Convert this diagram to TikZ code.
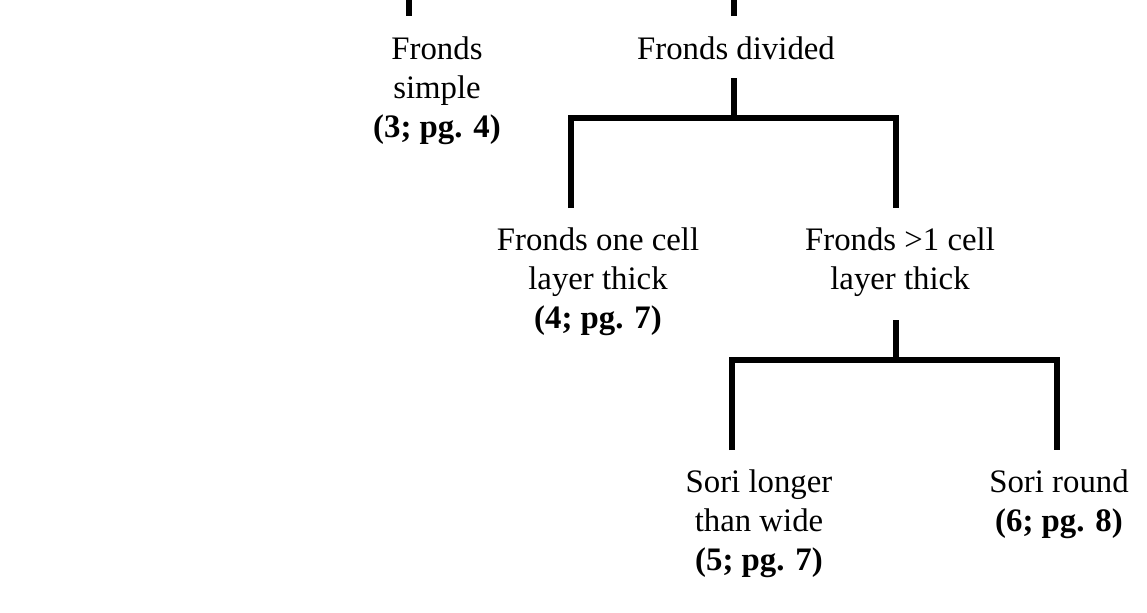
\documentclass[tikz,border=0pt]{standalone}
\usepackage{fontspec}
\setmainfont{Liberation Serif}

\begin{document}
\begin{tikzpicture}[x=0.5pt,y=0.5pt,line width=2.8pt,
	lbl/.style={align=center,inner sep=0pt,anchor=north,
		font=\fontsize{16.4}{19.5}\selectfont}]
\useasboundingbox (0,0) rectangle (1147,-612);
		% stems coming in from above
		\coordinate (A1) at (409,0);
		\coordinate (A2) at (409,-16);
		\coordinate (B1) at (734,0);
		\coordinate (B2) at (734,-16);
		% first fork
		\coordinate (C1) at (734,-78);
		\coordinate (C2) at (734,-118);
		\coordinate (D1) at (571,-208);
		\coordinate (D2) at (571,-118);
		\coordinate (E1) at (896,-118);
		\coordinate (E2) at (896,-208);
		% second fork
		\coordinate (F1) at (896,-320);
		\coordinate (F2) at (896,-360);
		\coordinate (G1) at (732,-450);
		\coordinate (G2) at (732,-360);
		\coordinate (H1) at (1057,-360);
		\coordinate (H2) at (1057,-450);
		\draw (A1) -- (A2);
		\draw (B1) -- (B2);
		\draw (C1) -- (C2);
		\draw (D1) -- (D2) -- (E1) -- (E2);
		\draw (F1) -- (F2);
		\draw (G1) -- (G2) -- (H1) -- (H2);
		\node[lbl] (simple) at (437,-34) {Fronds\\simple\\\textbf{(3; pg. 4)}};
		\node[lbl] (divided) at (736,-34) {Fronds divided};
		\node[lbl] (onecell) at (598,-225) {Fronds one cell\\layer thick\\\textbf{(4; pg. 7)}};
		\node[lbl] (manycell) at (900,-225) {Fronds >1 cell\\layer thick};
		\node[lbl] (longer) at (759,-467) {Sori longer\\than wide\\\textbf{(5; pg. 7)}};
		\node[lbl] (round) at (1059,-467) {Sori round\\\textbf{(6; pg. 8)}};
\end{tikzpicture}
\end{document}
